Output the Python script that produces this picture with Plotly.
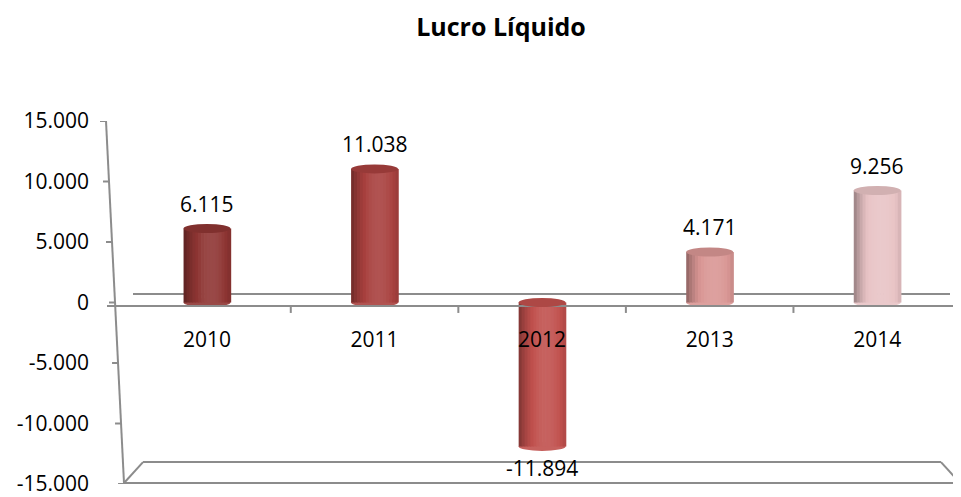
import plotly.graph_objects as go

# ---------------- data ----------------
years = ["2010", "2011", "2012", "2013", "2014"]
lucro = [6115, 11038, -11894, 4171, 9256]
y_ticks = [-15000, -10000, -5000, 0, 5000, 10000, 15000]
y_tick_labels = ["-15.000", "-10.000", "-5.000", "0", "5.000", "10.000", "15.000"]
bar_colors = ["#8E3533", "#A8403E", "#C0504D", "#D99694", "#E8C3C5"]
chart_title = "Lucro Líquido"

# ---------------- style / geometry ----------------
# page body has an 8px margin, so the figure is sized to fill the rest of the window
OFF = 8
WIN_W, WIN_H = 961, 497
W, H = WIN_W - OFF, WIN_H - OFF
# plot area in window pixels: x 112..961, y 121..486
PL, PR, PT, PB = 112, 961, 121, 486
ML, MR, MT, MB = PL - OFF, WIN_W - PR, PT - OFF, WIN_H - PB
PW, PH = PR - PL, PB - PT
FONT = "Open Sans"
LINE = "#8C8C8C"
BAR_W = 0.28
N_STRIPS = 16
YMIN, YMAX = -15000, 15000


def px(xp):
    return (xp - PL) / PW


def py(yp):
    return (PB - yp) / PH


def hex2rgb(h):
    h = h.lstrip("#")
    return [int(h[i:i + 2], 16) for i in (0, 2, 4)]


def mix(c, other, a):
    r = hex2rgb(c)
    return "rgb({},{},{})".format(*[round(r[k] * (1 - a) + other[k] * a) for k in range(3)])


def shade(c, t):
    # cylinder-like lighting profile across the bar width
    if t < 0.6:
        f = 0.10 - 0.45 * ((0.6 - t) / 0.6) ** 2.2
    else:
        f = 0.10 - 0.20 * ((t - 0.6) / 0.4) ** 2
    if f >= 0:
        return mix(c, [255, 255, 255], f)
    return mix(c, [0, 0, 0], -f)


def fmt(v):
    return f"{v:,}".replace(",", ".")


fig = go.Figure()

# cylinder bodies: overlaid narrow strips of one bar series
sw = BAR_W / N_STRIPS
for k in range(N_STRIPS):
    t = (k + 0.5) / N_STRIPS
    fig.add_trace(go.Bar(
        x=years, y=lucro,
        width=[sw * 1.25] * len(years),
        offset=[-BAR_W / 2 + k * sw] * len(years),
        marker=dict(color=[shade(c, t) for c in bar_colors], line=dict(width=0)),
        showlegend=False, hoverinfo="skip",
    ))

shapes = []
# zero plane (back and front edges)
shapes.append(dict(type="line", xref="paper", yref="paper", x0=px(133), x1=px(950),
                   y0=py(295), y1=py(295), line=dict(color=LINE, width=2), layer="below"))
shapes.append(dict(type="line", xref="paper", yref="paper", x0=px(107), x1=px(961),
                   y0=py(307), y1=py(307), line=dict(color=LINE, width=2), layer="above"))
# floor
for (x0, y0, x1, y1) in [(124, 485, 960, 485), (143, 464, 941, 464),
                         (124, 485, 143, 464), (941, 464, 960, 485)]:
    shapes.append(dict(type="line", xref="paper", yref="paper", x0=px(x0), x1=px(x1),
                       y0=py(y0), y1=py(y1), line=dict(color=LINE, width=2)))
# slanted value axis
shapes.append(dict(type="line", xref="paper", yref="paper", x0=px(106), x1=px(124),
                   y0=py(121), y1=py(485), line=dict(color=LINE, width=2)))
for v in y_ticks:
    yp = PT + (YMAX - v) / (YMAX - YMIN) * PH
    xp = 106 + (yp - 121) * 18 / 364
    shapes.append(dict(type="line", xref="paper", yref="y", x0=px(xp - 6), x1=px(xp),
                       y0=v, y1=v, line=dict(color=LINE, width=2)))
# category ticks
for i in range(len(years) - 1):
    shapes.append(dict(type="line", xref="x", yref="paper", x0=i + 0.5, x1=i + 0.5,
                       y0=py(307), y1=py(314), line=dict(color=LINE, width=2)))

# cylinder caps
for i, (v, c) in enumerate(zip(lucro, bar_colors)):
    top, bot = max(v, 0), min(v, 0)
    shapes.append(dict(type="circle", xref="x", yref="y", xsizemode="scaled",
                       x0=i - BAR_W / 2, x1=i + BAR_W / 2,
                       ysizemode="pixel", yanchor=top, y0=-4.5, y1=4.5,
                       fillcolor=mix(c, [0, 0, 0], 0.10), line=dict(width=0), layer="above"))
    shapes.append(dict(type="circle", xref="x", yref="y", xsizemode="scaled",
                       x0=i - BAR_W / 2, x1=i + BAR_W / 2,
                       ysizemode="pixel", yanchor=bot, y0=-4.5, y1=4.5,
                       fillcolor=shade(c, 0.55), line=dict(width=0), layer="below"))

# value labels (category positions given as serial numbers)
annotations = []
for i, v in enumerate(lucro):
    annotations.append(dict(x=i, y=v, xref="x", yref="y", text=fmt(v), showarrow=False,
                            yanchor="middle", yshift=25 if v > 0 else -22,
                            font=dict(family=FONT, size=21, color="#000000")))

fig.update_layout(
    width=W, height=H, autosize=False,
    margin=dict(l=ML, r=MR, t=MT, b=MB, pad=0),
    paper_bgcolor="white", plot_bgcolor="white",
    barmode="overlay",
    title=dict(text="<b>" + chart_title + "</b>", xref="container", yref="container",
               x=(501 - OFF) / W, y=1 - (27 - OFF) / H, xanchor="center", yanchor="middle",
               font=dict(family=FONT, size=25, color="#000000")),
    xaxis=dict(type="category", range=[-0.567, 4.5], showgrid=False, zeroline=False,
               showline=False, ticks="", anchor="free", position=py(307),
               ticklabelstandoff=19,
               tickfont=dict(family=FONT, size=21, color="#000000")),
    yaxis=dict(range=[YMIN, YMAX], tickvals=y_ticks, ticktext=y_tick_labels,
               showgrid=False, zeroline=False, showline=False, ticks="",
               ticklabelstandoff=22, ticklabeloverflow="allow",
               tickfont=dict(family=FONT, size=21, color="#000000")),
    shapes=shapes, annotations=annotations,
)

fig.write_html("out.html")
